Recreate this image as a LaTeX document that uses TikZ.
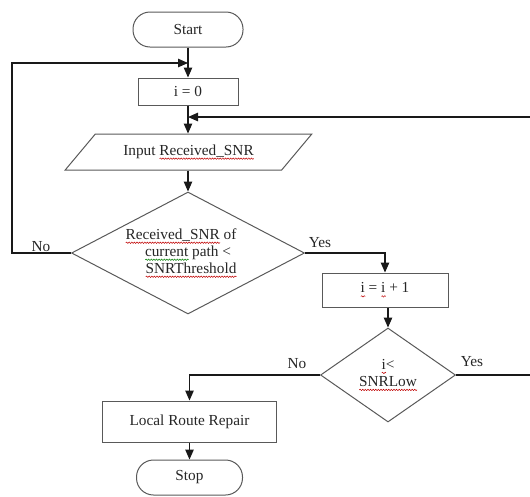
\documentclass[tikz,border=0pt]{standalone}
\usepackage{fontspec}
\setmainfont{Liberation Serif}
\usetikzlibrary{shapes.geometric,arrows.meta,decorations.pathmorphing}
% wavy underlines for the spell-check marks
\newsavebox\wavebox
\newlength\wavelen
\newcommand\wavemark[2]{\sbox\wavebox{#2}\setlength\wavelen{\wd\wavebox}%
  \leavevmode\rlap{\raisebox{-4.6pt}{\tikz[x=1pt,y=1pt]\draw[#1,line width=0.5pt]
    decorate[decoration={snake,amplitude=0.7pt,segment length=2.6pt}]
    {(0,0)--(\wavelen,0)};}}\usebox\wavebox}
\newcommand\redwave[1]{\wavemark{red!75!black}{#1}}
\newcommand\greenwave[1]{\wavemark{green!50!black}{#1}}
\begin{document}
\begin{tikzpicture}[x=1pt,y=-1pt,
  every node/.style={font=\fontsize{15.3}{17}\selectfont, text=black!85},
  shapeline/.style={draw=black!65, line width=1pt, inner sep=0pt},
  box/.style={shapeline, rectangle},
  term/.style={shapeline, rectangle, rounded corners=17pt},
  io/.style={shapeline, trapezium, trapezium left angle=35.8,
    trapezium right angle=144.2, trapezium stretches=true},
  decision/.style={shapeline, diamond, aspect=1.9, align=center},
  conn/.style={draw=black!90, line width=1.15pt},
  arr/.style={conn, -{Triangle[length=10pt,width=8.5pt]}},
  lbl/.style={inner sep=0pt}]
\useasboundingbox (0,0) rectangle (530,496);

% main column
\node[term, minimum width=110pt, minimum height=35pt] (start) at (188,29.5) {Start};
\node[box, minimum width=100pt, minimum height=27pt] (i0) at (188,91.5) {i = 0};
\node[io, minimum width=247pt, minimum height=36pt] (inp) at (188.5,152)
  {Input \redwave{Received\_SNR}};
\node[decision, minimum width=233pt, minimum height=122pt] (d1) at (188,253)
  {\redwave{Received\_SNR} of\hspace*{14pt}\\
   \greenwave{current} path <\hspace*{10pt}\\
   \hspace*{6pt}\redwave{SNRThreshold}};
\node[box, minimum width=126pt, minimum height=34pt] (inc) at (385,290)
  {\redwave{i} = \redwave{i} + 1};
\node[decision, minimum width=135pt, minimum height=94pt] (d2) at (388,375)
  {\redwave{i}<\\ \redwave{SNRLow}};
\node[box, minimum width=174pt, minimum height=41pt] (lrr) at (189.5,421.5)
  {Local Route Repair};
\node[term, minimum width=106pt, minimum height=35pt] (stop) at (189.5,477.5) {Stop};

% branch labels
\node[lbl] (no1) at (41,247) {No};
\node[lbl] (yes1) at (320,243) {Yes};
\node[lbl] (no2) at (297,364) {No};
\node[lbl] (yes2) at (472,362) {Yes};

% junctions and loop corners
\coordinate (lj) at (188,63);
\coordinate (lc) at (12,63);
\coordinate (rj) at (188,117);
\coordinate (rc1) at (534,375);
\coordinate (rc2) at (534,117);

% connectors
\draw[arr] (start) -- (i0);
\draw[arr] (i0.south) -- (i0.south |- inp.north);
\draw[arr] (d1.north |- inp.south) -- (d1.north);
\draw[arr] (d1.east) -| (inc.north);
\draw[arr] (inc.south -| d2.north) -- (d2.north);
\draw[arr] (d2.west) -| (lrr.north);
\draw[arr] (lrr) -- (stop);
\draw[arr] (d1.west) -| (lc) -- (lj);
\draw[arr] (d2.east) -- (rc1) -- (rc2) -- (rj);
\end{tikzpicture}
\end{document}
